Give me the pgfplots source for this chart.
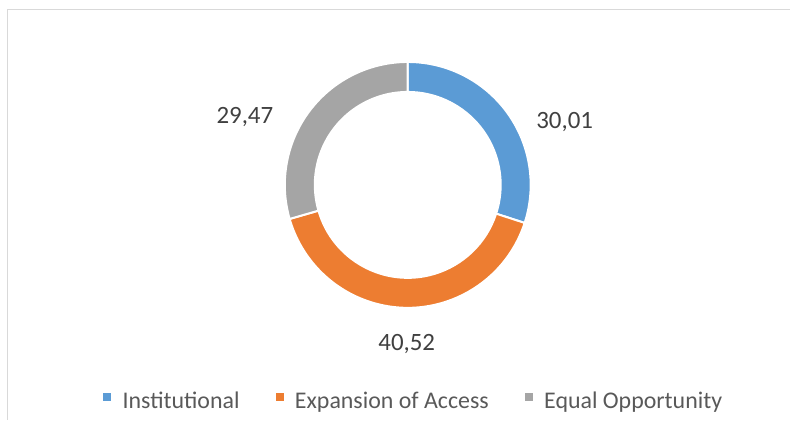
\documentclass[border=0pt]{standalone}
\usepackage{fontspec}
\setmainfont{Carlito}
\usepackage{pgfplots}
\usepackage{pgfplotstable}
\pgfplotsset{compat=1.18}
\usetikzlibrary{calc}
\definecolor{cInst}{HTML}{5B9BD5}
\definecolor{cExp}{HTML}{ED7D31}
\definecolor{cEq}{HTML}{A5A5A5}
\definecolor{txt}{HTML}{404040}
\definecolor{leg}{HTML}{595959}
\definecolor{frame}{HTML}{D9D9D9}

\pgfplotstableread{
name value
Institutional 30.01
Expansion 40.52
Equal 29.47
}\donut

\begin{document}
\begin{tikzpicture}
\pgfplotstablegetelem{0}{value}\of\donut \let\vA\pgfplotsretval
\pgfplotstablegetelem{1}{value}\of\donut \let\vB\pgfplotsretval
\pgfplotstablegetelem{2}{value}\of\donut \let\vC\pgfplotsretval
\pgfmathsetmacro\tot{\vA+\vB+\vC}
\pgfmathsetmacro\aA{90}
\pgfmathsetmacro\aB{90-360*\vA/\tot}
\pgfmathsetmacro\aC{\aB-360*\vB/\tot}
\pgfmathsetmacro\aD{\aC-360*\vC/\tot}
\begin{axis}[
  width=790bp,height=420bp,scale only axis,
  xmin=0,xmax=790,ymin=0,ymax=420,
  axis lines=none, clip=false,
  /pgf/number format/assume math mode=true,
  legend columns=3,
  legend style={at={(0.5228,0.045)},anchor=center,draw=none,fill=none,
    font=\fontsize{24}{28}\selectfont, text=leg,
    nodes={inner sep=0pt},
    /tikz/every odd column/.append style={column sep=12bp},
    /tikz/every even column/.append style={column sep=36bp}},
  legend image code/.code={\fill[#1] (0bp,1bp) rectangle (7bp,8bp);},
]
\addlegendimage{cInst}
\addlegendentry{Institutional}
\addlegendimage{cExp}
\addlegendentry{Expansion of Access}
\addlegendimage{cEq}
\addlegendentry{Equal Opportunity}

\path (axis cs:0,0) rectangle (axis cs:790,420);
\draw[frame, line width=1bp] (axis cs:8,0) -- (axis cs:8,410) -- (axis cs:790,410);

\filldraw[fill=cInst,draw=white,line width=2bp]
  ($(axis cs:408,235)+(\aA:123bp)$) arc[start angle=\aA,end angle=\aB,radius=123bp]
  -- ($(axis cs:408,235)+(\aB:93bp)$) arc[start angle=\aB,end angle=\aA,radius=93bp] -- cycle;
\filldraw[fill=cExp,draw=white,line width=2bp]
  ($(axis cs:408,235)+(\aB:123bp)$) arc[start angle=\aB,end angle=\aC,radius=123bp]
  -- ($(axis cs:408,235)+(\aC:93bp)$) arc[start angle=\aC,end angle=\aB,radius=93bp] -- cycle;
\filldraw[fill=cEq,draw=white,line width=2bp]
  ($(axis cs:408,235)+(\aC:123bp)$) arc[start angle=\aC,end angle=\aD,radius=123bp]
  -- ($(axis cs:408,235)+(\aD:93bp)$) arc[start angle=\aD,end angle=\aC,radius=93bp] -- cycle;

\node[text=txt,font=\fontsize{25}{29}\selectfont] at (axis cs:565,298)
  {\pgfmathprintnumber[fixed,fixed zerofill,precision=2,use comma]{\vA}};
\node[text=txt,font=\fontsize{25}{29}\selectfont] at (axis cs:407,76)
  {\pgfmathprintnumber[fixed,fixed zerofill,precision=2,use comma]{\vB}};
\node[text=txt,font=\fontsize{25}{29}\selectfont] at (axis cs:245,302.5)
  {\pgfmathprintnumber[fixed,fixed zerofill,precision=2,use comma]{\vC}};
\end{axis}
\end{tikzpicture}
\end{document}
